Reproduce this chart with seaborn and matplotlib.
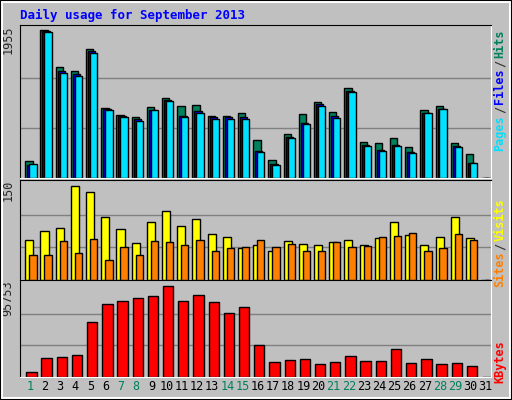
import matplotlib
matplotlib.use("Agg")
import matplotlib.pyplot as plt
import seaborn as sns
import numpy as np

days = list(range(1, 32))
hits = [219, 1924, 1452, 1400, 1675, 914, 822, 796, 927, 1045, 940, 953, 809, 809, 848,
        494, 232, 573, 835, 997, 862, 1176, 468, 455, 520, 402, 888, 940, 455, 311, 0]
files = [175, 1911, 1400, 1360, 1650, 901, 810, 770, 888, 1020, 810, 870, 790, 790, 800,
         350, 180, 533, 720, 960, 810, 1140, 430, 365, 430, 340, 848, 901, 415, 200, 0]
pages = [179, 1898, 1373, 1334, 1623, 888, 796, 743, 888, 1006, 796, 848, 770, 770, 770,
         337, 166, 520, 704, 940, 783, 1124, 415, 350, 415, 324, 848, 901, 402, 192, 0]
visits = [61, 75, 80, 144, 135, 96, 78, 56, 88, 105, 82, 93, 71, 66, 49,
          53, 45, 60, 55, 53, 58, 61, 53, 64, 88, 69, 53, 66, 96, 64, 0]
sites = [38, 38, 60, 42, 63, 31, 50, 39, 60, 58, 53, 61, 45, 49, 50,
         61, 50, 55, 45, 44, 58, 50, 52, 66, 67, 72, 44, 49, 71, 61, 0]
kbytes = [5357, 19419, 20423, 22431, 55577, 73657, 76670, 79683, 81692, 91736, 76670, 82697,
          75666, 64617, 70644, 32476, 15401, 17410, 18414, 13392, 15401, 21427, 16405, 16405,
          28458, 14397, 18414, 13392, 14397, 11383, 0]
weekends = [1, 7, 8, 14, 15, 21, 22, 28, 29]
max_hits, max_visits, max_kbytes = 1955, 150, 95753

sns.set_style("white")
mono = "DejaVu Sans Mono"
bg = "#C0C0C0"

fig = plt.figure(figsize=(5.12, 4.0), dpi=100, facecolor=bg)
fig.patches.append(plt.Rectangle((0.004, 0.004), 0.992, 0.992, transform=fig.transFigure,
                                 fill=False, edgecolor="white", lw=1.5))
fig.patches.append(plt.Rectangle((0, 0), 1, 1, transform=fig.transFigure,
                                 fill=False, edgecolor="black", lw=1.5))

x = np.arange(31)
ax1 = fig.add_axes([0.039, 0.555, 0.92, 0.3825])
ax2 = fig.add_axes([0.039, 0.30, 0.92, 0.25])
ax3 = fig.add_axes([0.039, 0.0575, 0.92, 0.2425])

def setup(ax, top):
    ax.set_facecolor(bg)
    ax.set_xlim(0, 31)
    ax.set_ylim(0, top * 1.02)
    for g in (top / 3, 2 * top / 3):
        ax.axhline(g, color="#808080", lw=1, zorder=0)
    ax.set_xticks([])
    ax.set_yticks([])
    for s in ax.spines.values():
        s.set_color("black")
    ax.spines["right"].set_color("white")
    ax.spines["bottom"].set_color("white")

setup(ax1, max_hits)
setup(ax2, max_visits)
setup(ax3, max_kbytes)

kw = dict(align="edge", edgecolor="black", linewidth=1)
ax1.bar(x + 0.35, hits, width=0.48, color="#00805C", **kw)
ax1.bar(x + 0.48, files, width=0.48, color="#0000FF", **kw)
ax1.bar(x + 0.61, pages, width=0.48, color="#00E0FF", **kw)
ax2.bar(x + 0.35, visits, width=0.53, color="#FFFF00", **kw)
ax2.bar(x + 0.61, sites, width=0.48, color="#FF8000", **kw)
ax3.bar(x + 0.41, kbytes, width=0.68, color="#FF0000", **kw)

for d in days:
    c = "#00805C" if d in weekends else "black"
    ax3.text(d - 0.35, -0.1, str(d), transform=ax3.get_xaxis_transform(),
             ha="center", va="center", fontsize=8.5, color=c, family=mono)

fig.text(20 / 512, 1 - 15 / 400, "Daily usage for September 2013", color="#0000FF",
         fontsize=9, fontweight="bold", family=mono, va="center")

for ax, lab in ((ax1, "1955"), (ax2, "150"), (ax3, "95753")):
    ax.text(-0.012, 1.0, lab, transform=ax.transAxes, rotation=90, ha="right", va="top",
            fontsize=8.5, family=mono)

def right_labels(parts, y_top):
    y = y_top
    for txt, col in parts:
        fig.text(500 / 512, 1 - y / 400, txt, rotation=90, color=col, ha="center", va="top",
                 fontsize=8.5, family=mono, fontweight="bold")
        y += len(txt) * 7.1 + 2

right_labels([("Hits", "#00805C"), ("/", "#333333"), ("Files", "#0000FF"),
              ("/", "#333333"), ("Pages", "#00E0FF")][::-1][::-1], 29)
right_labels([("Visits", "#FFFF00"), ("/", "#333333"), ("Sites", "#FF8000")], 198)
right_labels([("KBytes", "#FF0000")], 340)

fig.savefig("out.png", dpi=100, facecolor=bg)
